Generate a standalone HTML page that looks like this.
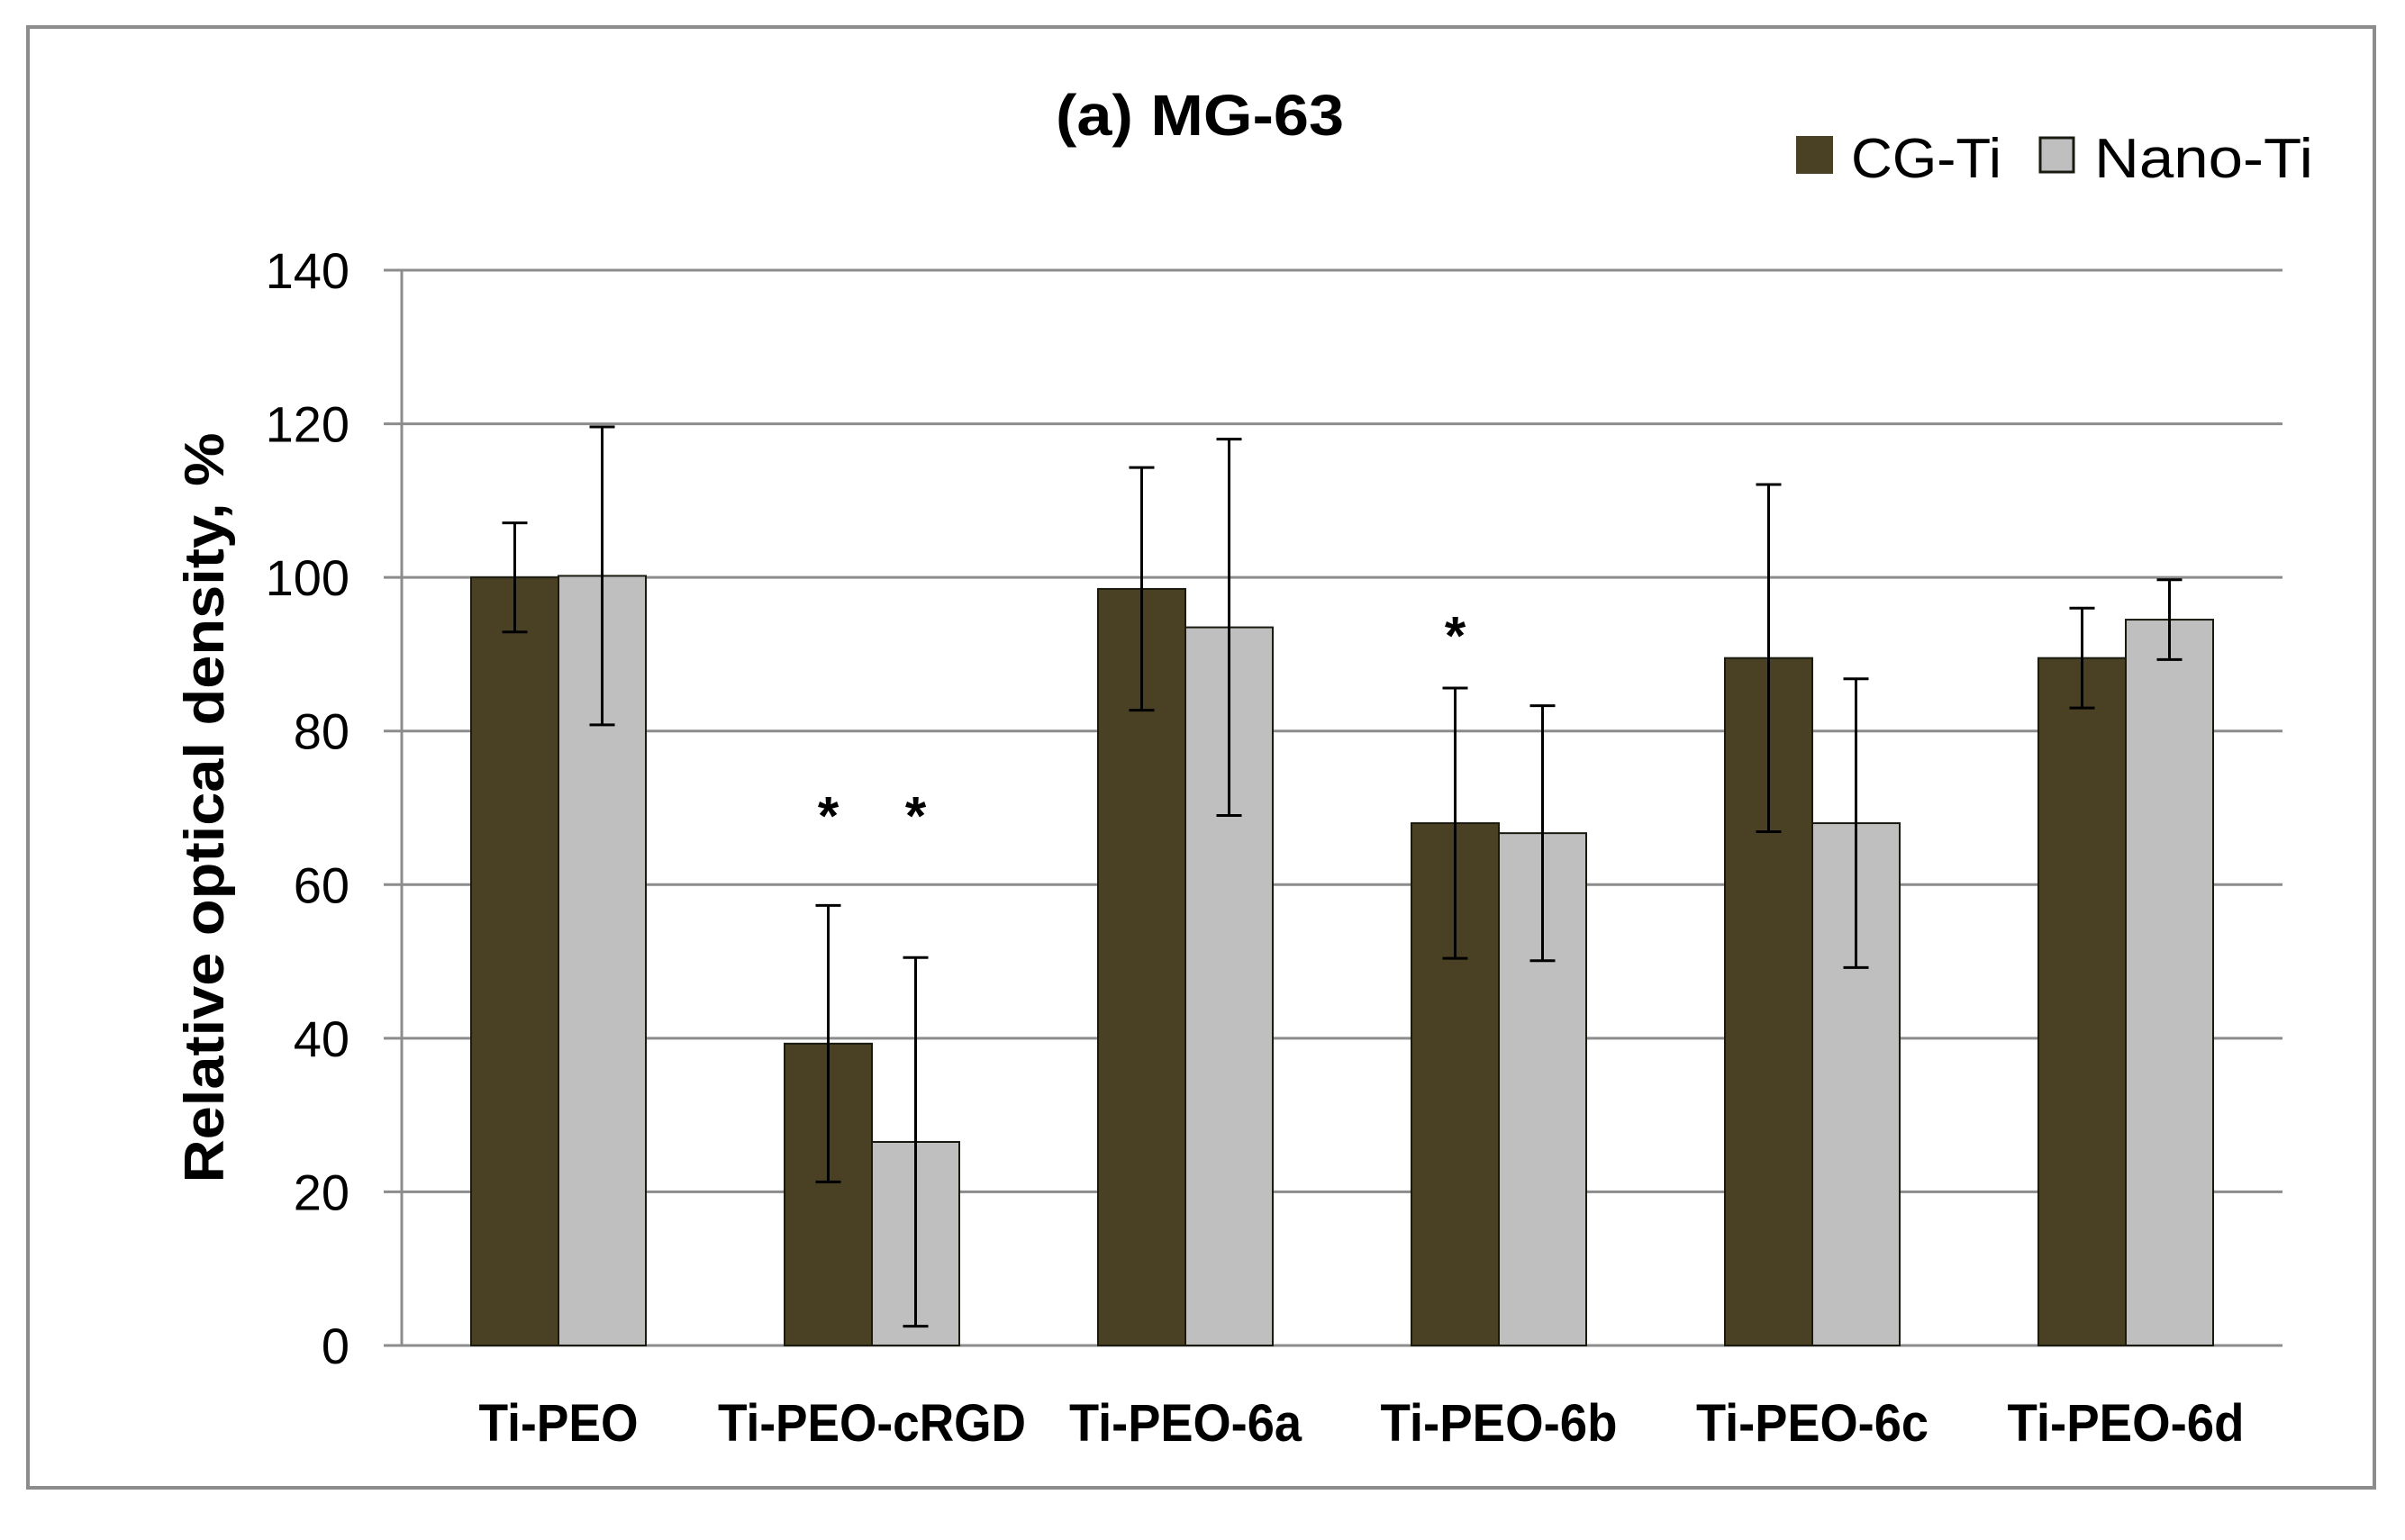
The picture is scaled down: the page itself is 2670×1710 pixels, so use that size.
<!DOCTYPE html>
<html><head><meta charset="utf-8"><style>
html,body{margin:0;padding:0;background:#fff;}
svg{display:block;font-family:"Liberation Sans",sans-serif;}
</style></head><body>
<svg id="chart" width="2670" height="1710" viewBox="0 0 2670 1710">
<rect x="31" y="30" width="2605" height="1622" fill="#fff" stroke="#8c8c8c" stroke-width="4"/>
<text x="1332" y="150" text-anchor="middle" font-size="64" font-weight="bold" textLength="320" lengthAdjust="spacingAndGlyphs">(a) MG-63</text>
<g>
<rect x="1994" y="151" width="41" height="42" fill="#4a4125"/>
<text x="2055" y="197" font-size="62" textLength="167" lengthAdjust="spacingAndGlyphs">CG-Ti</text>
<rect x="2265" y="153" width="37" height="38" fill="#bfbfbf" stroke="#1a1a10" stroke-width="3"/>
<text x="2325" y="197" font-size="62" textLength="243" lengthAdjust="spacingAndGlyphs">Nano-Ti</text>
</g>
<text transform="translate(248,897) rotate(-90)" text-anchor="middle" font-size="62" font-weight="bold" textLength="833" lengthAdjust="spacingAndGlyphs">Relative optical density, %</text>
<g id="grid"></g>
<g id="bars"></g>
<g id="errs"></g>
<g id="labels"></g>
</svg>
<script>
const categories = ["Ti-PEO","Ti-PEO-cRGD","Ti-PEO-6a","Ti-PEO-6b","Ti-PEO-6c","Ti-PEO-6d"];
const cgValues = [100, 39.3, 98.5, 68, 89.5, 89.5];
const nanoValues = [100.2, 26.5, 93.5, 66.7, 68, 94.5];
const cgErrors = [7.1, 18, 15.8, 17.6, 22.6, 6.5];
const nanoErrors = [19.4, 24, 24.5, 16.6, 18.8, 5.2];
const yTicks = [0, 20, 40, 60, 80, 100, 120, 140];
const asterisks = [{cat:1, series:0, value:70.5},{cat:1, series:1, value:70.5},{cat:3, series:0, value:94}];

const NS = "http://www.w3.org/2000/svg";
const x0 = 446, x1 = 2534, yTop = 300, yBot = 1494, yMax = 140;
const y = v => yBot - (v / yMax) * (yBot - yTop);
const groupW = (x1 - x0) / categories.length;
const barW = 97;
const gx = i => x0 + groupW * (i + 0.5);
const catLen = [177, 342, 258, 263, 258, 263];
function mk(tag, attrs, parent) {
  const e = document.createElementNS(NS, tag);
  for (const k in attrs) e.setAttribute(k, attrs[k]);
  parent.appendChild(e);
  return e;
}
const grid = document.getElementById('grid');
yTicks.forEach(t => {
  const l = mk('line', {x1: 426, x2: x1, y1: y(t), y2: y(t), stroke: '#8c8c8c', 'stroke-width': 3}, grid);
  
  
  const tx = mk('text', {x: 388, y: y(t) + 20, 'text-anchor': 'end', 'font-size': 56}, grid);
  tx.textContent = t;
  
  
});
const ax = mk('line', {x1: x0, x2: x0, y1: yTop, y2: yBot, stroke: '#8c8c8c', 'stroke-width': 3}, grid);



const bars = document.getElementById('bars'), errs = document.getElementById('errs'), labels = document.getElementById('labels');
const series = [
  {vals: cgValues, errs: cgErrors, fill: '#4a4125', name: 'cg'},
  {vals: nanoValues, errs: nanoErrors, fill: '#bfbfbf', name: 'nano'}
];
categories.forEach((c, i) => {
  series.forEach((s, k) => {
    const bx = gx(i) - barW + k * barW;
    const r = mk('rect', {x: bx, y: y(s.vals[i]), width: barW, height: yBot - y(s.vals[i]), fill: s.fill, stroke: '#1a1a10', 'stroke-width': 2}, bars);
    
    
    const cx = bx + barW / 2, hi = y(s.vals[i] + s.errs[i]), lo = y(s.vals[i] - s.errs[i]);
    const g = mk('g', {stroke: '#000', 'stroke-width': 3}, errs);
    
    
    mk('line', {x1: cx, x2: cx, y1: hi, y2: lo}, g);
    mk('line', {x1: cx - 14, x2: cx + 14, y1: hi, y2: hi}, g);
    mk('line', {x1: cx - 14, x2: cx + 14, y1: lo, y2: lo}, g);
  });
  const t = mk('text', {x: gx(i), y: 1600, 'text-anchor': 'middle', 'font-size': 58, 'font-weight': 'bold', textLength: catLen[i], lengthAdjust: 'spacingAndGlyphs'}, labels);
  t.textContent = c;
  
  
});
asterisks.forEach(a => {
  const cx = gx(a.cat) - barW / 2 + a.series * barW;
  const t = mk('text', {x: cx, y: y(a.value) + 34, 'text-anchor': 'middle', 'font-size': 60, 'font-weight': 'bold'}, labels);
  t.textContent = '*';
  
  
});
</script>
</body></html>
